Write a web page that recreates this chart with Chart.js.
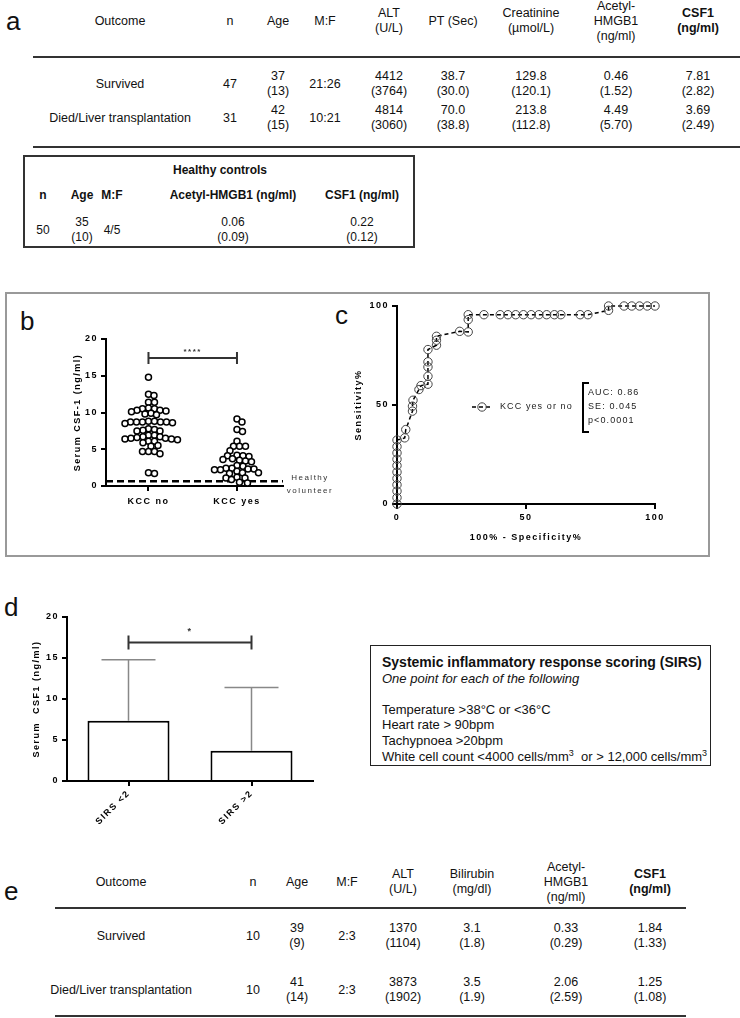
<!DOCTYPE html>
<html>
<head>
<meta charset="utf-8">
<script src="https://cdn.jsdelivr.net/npm/chart.js@4.4.1/dist/chart.umd.min.js"></script>
<style>
html, body { margin: 0; padding: 0; background: #fff; }
body { position: relative; width: 740px; height: 1018px; overflow: hidden; font-family: "Liberation Sans", Arial, sans-serif; color: #111; }
.t { position: absolute; transform: translate(-50%, -50%); text-align: center; white-space: nowrap; line-height: 15px; }
.tab { font-family: "Liberation Sans Narrow", "Liberation Sans", Arial, sans-serif; font-size: 12.5px; }
.hc { font-size: 12px; }
.rule { position: absolute; height: 2px; background: #333; }
.lab { position: absolute; font-size: 26px; line-height: 26px; }
.box { position: absolute; box-sizing: border-box; }
canvas { position: absolute; }
#sirs { left: 370px; top: 645px; width: 341px; height: 121px; border: 1.5px solid #222; padding: 9px 0 0 11px; font-size: 13px; line-height: 15.6px; }
#sirs .h { font-weight: bold; font-size: 14px; }
#sirs sup { font-size: 9px; line-height: 0; vertical-align: 0; position: relative; top: -5px; }
</style>
</head>
<body>
<div class="lab" style="left:6px;top:8px">a</div>
<div class="lab" style="left:20px;top:308px">b</div>
<div class="lab" style="left:335px;top:302px">c</div>
<div class="lab" style="left:4px;top:594px">d</div>
<div class="lab" style="left:4px;top:878px">e</div>

<div class="box" style="left:23px;top:155px;width:392px;height:93px;border:2px solid #333"></div>
<div class="box" style="left:5px;top:292px;width:705px;height:265px;border:2px solid #999"></div>

<div class="box" id="sirs">
<div class="h">Systemic inflammatory response scoring (SIRS)</div>
<div><i>One point for each of the following</i></div>
<div>&nbsp;</div>
<div>Temperature &gt;38°C or &lt;36°C</div>
<div>Heart rate &gt; 90bpm</div>
<div>Tachypnoea &gt;20bpm</div>
<div>White cell count &lt;4000 cells/mm<sup>3</sup>&nbsp; or &gt; 12,000 cells/mm<sup>3</sup></div>
</div>

<canvas id="chartB" width="290" height="200" style="left:50px;top:325px"></canvas>
<canvas id="chartC" width="330" height="250" style="left:340px;top:295px"></canvas>
<canvas id="chartD" width="320" height="240" style="left:5px;top:605px"></canvas>

<script>
// table a: outcome of ALF patients
const colsA = [120, 230, 278, 325, 389, 453, 531, 616, 698];
const headA = ['Outcome', 'n', 'Age', 'M:F', 'ALT<br>(U/L)', 'PT (Sec)', 'Creatinine<br>(µmol/L)', 'Acetyl-<br>HMGB1<br>(ng/ml)', '<b>CSF1<br>(ng/ml)</b>'];
const rowsA = [
    ['Survived', '47', '37<br>(13)', '21:26', '4412<br>(3764)', '38.7<br>(30.0)', '129.8<br>(120.1)', '0.46<br>(1.52)', '7.81<br>(2.82)'],
    ['Died/Liver transplantation', '31', '42<br>(15)', '10:21', '4814<br>(3060)', '70.0<br>(38.8)', '213.8<br>(112.8)', '4.49<br>(5.70)', '3.69<br>(2.49)']
];

// healthy controls
const colsH = [43, 82, 112, 233, 362];
const headH = ['n', 'Age', 'M:F', 'Acetyl-HMGB1 (ng/ml)', 'CSF1 (ng/ml)'];
const rowH = ['50', '35<br>(10)', '4/5', '0.06<br>(0.09)', '0.22<br>(0.12)'];

// table e: validation cohort
const colsE = [121, 253, 297, 347, 403, 472, 566, 650];
const headE = ['Outcome', 'n', 'Age', 'M:F', 'ALT<br>(U/L)', 'Bilirubin<br>(mg/dl)', 'Acetyl-<br>HMGB1<br>(ng/ml)', '<b>CSF1<br>(ng/ml)</b>'];
const rowsE = [
    ['Survived', '10', '39<br>(9)', '2:3', '1370<br>(1104)', '3.1<br>(1.8)', '0.33<br>(0.29)', '1.84<br>(1.33)'],
    ['Died/Liver transplantation', '10', '41<br>(14)', '2:3', '3873<br>(1902)', '3.5<br>(1.9)', '2.06<br>(2.59)', '1.25<br>(1.08)']
];

// b: serum CSF-1 by KCC
const groupsB = ['KCC no', 'KCC yes'];
const kccNo = [14.8, 12.3, 12.5, 11.4, 11.4, 10.6, 10.5, 10.3, 10.3, 10.5, 9.9, 9.7, 10.1, 9.8, 10.2,
    8.7, 8.7, 8.7, 8.6, 8.8, 8.8, 8.5, 8.7, 8.7, 7.8, 7.6, 7.5, 7.5, 7.7,
    6.9, 6.7, 6.5, 6.4, 6.4, 6.1, 5.9, 6.1, 6.3, 6.5, 6.6, 6.7, 6.9,
    5.5, 4.7, 4.7, 4.4, 4.7, 5.4, 1.7, 1.8];
const kccYes = [9.1, 8.7, 7.7, 7.4, 6.1, 5.4, 5.4, 5.4, 4.8, 4.2, 4.1, 3.6, 3.3, 3.4, 3.5, 3.7, 4.0, 4.1,
    2.8, 2.4, 2.3, 2.2, 1.8, 1.7, 1.8, 2.0, 2.2, 2.3, 2.4, 2.7, 1.2, 0.9, 0.4, 0.5, 1.1, 1.1];
const healthyB = 0.65;
const sigB = 17.4;

// c: ROC curve
const rocX = [0, 0, 0, 0, 0, 0, 0, 0, 0, 0, 0, 3.0, 3.4, 6.0, 6.0, 6.2, 8.5, 9.3, 12.0, 12.0, 12.0, 12.0, 12.0,
    15.3, 15.3, 15.3, 24.3, 27.6, 27.6, 27.6, 33.7, 40, 43, 46, 49, 52, 55, 58, 61, 63.5, 71, 74, 82, 82,
    88, 91, 94, 97, 100];
const rocY = [0, 3.2, 6.5, 9.7, 12.9, 16.1, 19.4, 22.6, 25.8, 29.0, 32.3, 33.4, 37.6, 46.9, 49.4, 52.4, 57.8, 59.8,
    60.5, 64.5, 69.2, 71.8, 78.0, 80.2, 82.7, 84.7, 87.2, 86.9, 93.1, 95.6, 95.6, 95.6, 95.6, 95.6, 95.6, 95.6,
    95.6, 95.6, 95.6, 95.6, 95.6, 95.6, 97.8, 100, 100, 100, 100, 100, 100];
const rocStats = ['AUC: 0.86', 'SE: 0.045', 'p<0.0001'];

// d: CSF1 by SIRS score
const sirsLabels = ['SIRS <2', 'SIRS >2'];
const sirsMean = [7.35, 3.7];
const sirsSD = [7.45, 7.7];
const sigD = 16.9;

function put(cls, x, y, html) {
    const d = document.createElement('div');
    d.className = 't ' + cls;
    d.style.left = x + 'px';
    d.style.top = y + 'px';
    d.innerHTML = html;
    document.body.appendChild(d);
}
function rule(x0, x1, y) {
    const d = document.createElement('div');
    d.className = 'rule';
    d.style.left = x0 + 'px';
    d.style.width = (x1 - x0) + 'px';
    d.style.top = (y - 1) + 'px';
    document.body.appendChild(d);
}

headA.forEach((h, i) => put('tab', colsA[i], 21, h));
rowsA.forEach((r, j) => r.forEach((c, i) => put('tab', colsA[i], [84, 118][j], c)));
rule(33, 740, 57);
rule(33, 740, 147);

put('hc', 220, 170, '<b>Healthy controls</b>');
headH.forEach((h, i) => put('hc', colsH[i], 195, '<b>' + h + '</b>'));
rowH.forEach((c, i) => put('hc', colsH[i], 230, c));

headE.forEach((h, i) => put('tab', colsE[i], 882, h));
rowsE.forEach((r, j) => r.forEach((c, i) => put('tab', colsE[i], [936, 990][j], c)));
rule(55, 686, 908);
rule(55, 686, 1016);

// simple beeswarm so points of equal value sit side by side
function swarm(values, center, unitX, unitY, gap) {
    const placed = [];
    const sorted = values.slice().sort((a, b) => b - a);
    return sorted.map(v => {
        const py = v * unitY;
        let dx = 0;
        for (let k = 0; k < 400; k++) {
            dx = (k % 2 ? 1 : -1) * Math.ceil(k / 2) * 0.5;
            if (placed.every(p => (p.dx - dx) ** 2 + (p.py - py) ** 2 >= gap * gap)) break;
        }
        placed.push({ dx: dx, py: py });
        return { x: center + dx / unitX, y: v };
    });
}

Chart.defaults.font.family = '"Liberation Sans", Arial, sans-serif';
Chart.defaults.color = '#000';
Chart.defaults.animation = false;

const gpFont = { weight: 'bold', size: 9 };
const spacing = {
    id: 'spacing',
    beforeDraw(chart) { chart.ctx.letterSpacing = '1.5px'; }
};
const axisGrid = { display: true, drawOnChartArea: false, color: '#000', lineWidth: 2, tickLength: 5 };
const axisBorder = { color: '#000', width: 2 };

// b
const bMarks = {
    id: 'bMarks',
    afterDraw(chart) {
        const { ctx, scales: { x, y }, chartArea } = chart;
        ctx.save();
        ctx.letterSpacing = '1.5px';
        const x0 = x.getPixelForValue(0), x1 = x.getPixelForValue(1), ys = y.getPixelForValue(sigB);
        ctx.strokeStyle = '#333';
        ctx.lineWidth = 2;
        ctx.beginPath();
        ctx.moveTo(x0, ys); ctx.lineTo(x1, ys);
        ctx.moveTo(x0, ys - 6); ctx.lineTo(x0, ys + 6);
        ctx.moveTo(x1, ys - 6); ctx.lineTo(x1, ys + 6);
        ctx.stroke();
        ctx.fillStyle = '#333';
        ctx.textAlign = 'center';
        ctx.textBaseline = 'bottom';
        ctx.font = 'bold 8px "Liberation Sans", Arial';
        ctx.fillText('****', (x0 + x1) / 2, ys - 2);
        const yh = y.getPixelForValue(healthyB);
        ctx.font = '8px "Liberation Sans", Arial';
        ctx.textBaseline = 'middle';
        ctx.fillText('Healthy', chartArea.right + 27, yh - 3);
        ctx.fillText('volunteer', chartArea.right + 27, yh + 10);
        ctx.restore();
    }
};

new Chart(document.getElementById('chartB'), {
    type: 'scatter',
    data: {
        datasets: [{
            data: swarm(kccNo, 0, 88.5, 7.35, 5.6),
            pointRadius: 3,
            pointBorderWidth: 1.5,
            borderColor: '#000',
            backgroundColor: '#fff',
            clip: false
        }, {
            data: swarm(kccYes, 1, 88.5, 7.35, 5.6),
            pointRadius: 3,
            pointBorderWidth: 1.5,
            borderColor: '#000',
            backgroundColor: '#fff',
            clip: false
        }, {
            data: [{ x: -0.48, y: healthyB }, { x: 1.52, y: healthyB }],
            showLine: true,
            pointRadius: 0,
            borderDash: [7, 4],
            borderWidth: 2.5,
            borderColor: '#000'
        }]
    },
    options: {
        responsive: false,
        layout: { padding: { top: 14, right: 57, left: 0, bottom: 0 } },
        plugins: { legend: { display: false }, tooltip: { enabled: false } },
        scales: {
            x: {
                type: 'linear', min: -0.48, max: 1.52,
                afterBuildTicks: s => { s.ticks = [{ value: 0 }, { value: 1 }]; },
                afterFit: s => { s.height = 39; },
                ticks: { callback: v => groupsB[v], font: gpFont, padding: 5 },
                grid: axisGrid,
                border: axisBorder
            },
            y: {
                min: 0, max: 20,
                afterFit: s => { s.width = 56; },
                ticks: { stepSize: 5, font: gpFont, padding: 3 },
                grid: axisGrid,
                border: axisBorder,
                title: { display: true, text: 'Serum CSF-1 (ng/ml)', font: gpFont, padding: { top: 22.6, bottom: 0 } }
            }
        }
    },
    plugins: [spacing, bMarks]
});

// c
const cLegend = {
    id: 'cLegend',
    afterDraw(chart) {
        const { ctx, chartArea: ca } = chart;
        ctx.save();
        ctx.letterSpacing = '1.1px';
        const ly = ca.top + 101;
        ctx.strokeStyle = '#000';
        ctx.lineWidth = 1.5;
        ctx.setLineDash([4, 3]);
        ctx.beginPath();
        ctx.moveTo(ca.left + 75, ly); ctx.lineTo(ca.left + 96, ly);
        ctx.stroke();
        ctx.setLineDash([]);
        ctx.lineWidth = 1;
        ctx.strokeStyle = '#444';
        ctx.beginPath();
        ctx.arc(ca.left + 85, ly, 4.2, 0, Math.PI * 2);
        ctx.stroke();
        ctx.fillStyle = '#222';
        ctx.font = '9px "Liberation Sans", Arial';
        ctx.textBaseline = 'middle';
        ctx.textAlign = 'left';
        ctx.fillText('KCC yes or no', ca.left + 103, ly);
        const bx = ca.left + 186;
        ctx.strokeStyle = '#000';
        ctx.lineWidth = 2;
        ctx.beginPath();
        ctx.moveTo(bx + 6, ca.top + 77); ctx.lineTo(bx, ca.top + 77);
        ctx.lineTo(bx, ca.top + 126); ctx.lineTo(bx + 6, ca.top + 126);
        ctx.stroke();
        rocStats.forEach((s, i) => ctx.fillText(s, bx + 5, ca.top + 87 + i * 14));
        ctx.restore();
    }
};

new Chart(document.getElementById('chartC'), {
    type: 'scatter',
    data: {
        datasets: [{
            data: rocX.map((x, i) => ({ x: x, y: rocY[i] })),
            showLine: true,
            clip: false,
            borderDash: [4, 3],
            borderWidth: 1.5,
            borderColor: '#000',
            pointRadius: 4.2,
            pointBorderWidth: 1,
            pointBorderColor: '#444',
            pointBackgroundColor: 'rgba(0,0,0,0)'
        }]
    },
    options: {
        responsive: false,
        layout: { padding: { top: 11, right: 15, left: 0, bottom: 0 } },
        plugins: { legend: { display: false }, tooltip: { enabled: false } },
        scales: {
            x: {
                min: 0, max: 100,
                afterFit: s => { s.height = 41; },
                ticks: { stepSize: 50, font: gpFont, padding: 3 },
                grid: axisGrid,
                border: axisBorder,
                title: { display: true, text: '100% - Specificity%', font: gpFont, padding: { top: 0, bottom: 2.5 } }
            },
            y: {
                min: 0, max: 100,
                afterFit: s => { s.width = 57; },
                ticks: { stepSize: 50, font: gpFont, padding: 3 },
                grid: axisGrid,
                border: axisBorder,
                title: { display: true, text: 'Sensitivity%', font: gpFont, padding: { top: 13.6, bottom: 0 } }
            }
        }
    },
    plugins: [spacing, cLegend]
});

// d
const dMarks = {
    id: 'dMarks',
    afterDatasetsDraw(chart) {
        const { ctx, scales: { y } } = chart;
        const bars = chart.getDatasetMeta(0).data;
        ctx.save();
        ctx.strokeStyle = '#888';
        ctx.lineWidth = 1.5;
        bars.forEach((b, i) => {
            const yt = y.getPixelForValue(sirsMean[i] + sirsSD[i]);
            ctx.beginPath();
            ctx.moveTo(b.x, b.y); ctx.lineTo(b.x, yt);
            ctx.moveTo(b.x - 27, yt); ctx.lineTo(b.x + 27, yt);
            ctx.stroke();
        });
        const x0 = bars[0].x, x1 = bars[1].x, ys = y.getPixelForValue(sigD);
        ctx.strokeStyle = '#333';
        ctx.lineWidth = 2;
        ctx.beginPath();
        ctx.moveTo(x0, ys); ctx.lineTo(x1, ys);
        ctx.moveTo(x0, ys - 7); ctx.lineTo(x0, ys + 7);
        ctx.moveTo(x1, ys - 7); ctx.lineTo(x1, ys + 7);
        ctx.stroke();
        ctx.fillStyle = '#333';
        ctx.font = 'bold 9px "Liberation Sans", Arial';
        ctx.textAlign = 'center';
        ctx.textBaseline = 'bottom';
        ctx.fillText('*', (x0 + x1) / 2, ys - 6);
        ctx.restore();
    }
};

new Chart(document.getElementById('chartD'), {
    type: 'bar',
    data: {
        labels: sirsLabels,
        datasets: [{
            data: sirsMean,
            backgroundColor: '#fff',
            borderColor: '#000',
            borderWidth: 2,
            barPercentage: 0.667,
            categoryPercentage: 1
        }]
    },
    options: {
        responsive: false,
        layout: { padding: { top: 12, right: 12, left: 0, bottom: 0 } },
        plugins: { legend: { display: false }, tooltip: { enabled: false } },
        scales: {
            x: {
                afterFit: s => { s.height = 64; },
                ticks: { font: gpFont, minRotation: 45, maxRotation: 45, padding: 2 },
                grid: { display: true, drawOnChartArea: false, color: '#000', lineWidth: 2, tickLength: 5, offset: false },
                border: axisBorder
            },
            y: {
                min: 0, max: 20,
                afterFit: s => { s.width = 62; },
                ticks: { stepSize: 5, font: gpFont, padding: 3 },
                grid: axisGrid,
                border: axisBorder,
                title: { display: true, text: 'Serum  CSF1 (ng/ml)', font: gpFont, padding: { top: 26.6, bottom: 0 } }
            }
        }
    },
    plugins: [spacing, dMarks]
});
</script>
</body>
</html>
